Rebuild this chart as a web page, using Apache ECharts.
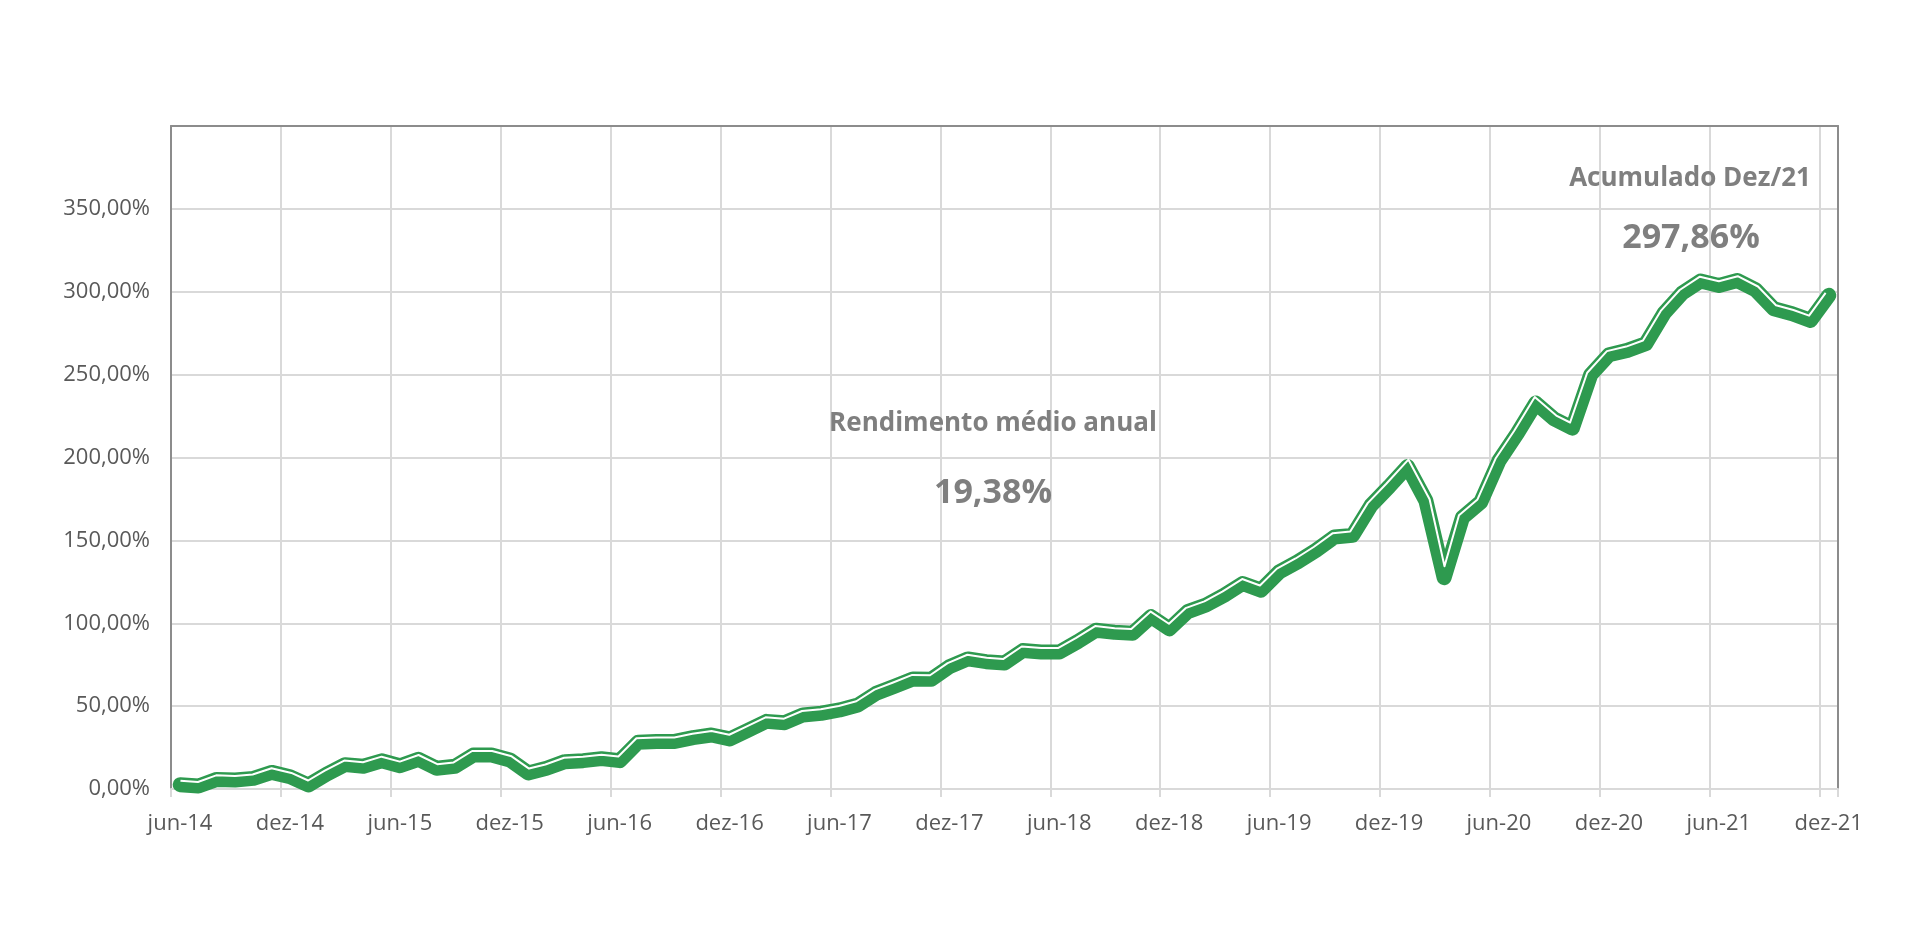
<!DOCTYPE html>
<html>
<head>
<meta charset="utf-8">
<script src="https://cdn.jsdelivr.net/npm/echarts@6/dist/echarts.min.js"></script>
<style>
html,body{margin:0;padding:0;background:#ffffff;}
#chart{width:1920px;height:938px;}
</style>
</head>
<body>
<div id="chart"></div>
<script>
// Months (one point per month, jun-14 .. dez-21)
const monthLabels = [
  'jun-14','jul-14','ago-14','set-14','out-14','nov-14','dez-14',
  'jan-15','fev-15','mar-15','abr-15','mai-15','jun-15','jul-15','ago-15','set-15','out-15','nov-15','dez-15',
  'jan-16','fev-16','mar-16','abr-16','mai-16','jun-16','jul-16','ago-16','set-16','out-16','nov-16','dez-16',
  'jan-17','fev-17','mar-17','abr-17','mai-17','jun-17','jul-17','ago-17','set-17','out-17','nov-17','dez-17',
  'jan-18','fev-18','mar-18','abr-18','mai-18','jun-18','jul-18','ago-18','set-18','out-18','nov-18','dez-18',
  'jan-19','fev-19','mar-19','abr-19','mai-19','jun-19','jul-19','ago-19','set-19','out-19','nov-19','dez-19',
  'jan-20','fev-20','mar-20','abr-20','mai-20','jun-20','jul-20','ago-20','set-20','out-20','nov-20','dez-20',
  'jan-21','fev-21','mar-21','abr-21','mai-21','jun-21','jul-21','ago-21','set-21','out-21','nov-21','dez-21'
];

// Cumulative return (%)
const cumulativeReturn = [
  2.6, 1.8, 5.8, 5.4, 6.4, 10.0, 7.4,
  2.4, 9.0, 14.7, 13.7, 17.0, 14.0, 17.9, 12.5, 13.7, 20.5, 20.5, 17.5,
  9.7, 12.5, 16.5, 17.1, 18.3, 17.1, 28.2, 28.6, 28.7, 31.0, 32.6, 30.2,
  35.4, 40.8, 40.0, 44.7, 45.7, 47.7, 50.7, 57.8, 62.0, 66.4, 66.2, 73.8,
  78.5, 76.8, 76.0, 83.5, 82.7, 82.7, 88.9, 95.8, 94.6, 94.0, 104.0, 96.6,
  107.0, 111.0, 117.0, 124.0, 120.0, 131.0, 137.0, 144.0, 152.0, 153.0, 171.0, 182.5,
  194.6, 174.0, 127.5, 163.8, 173.2, 198.2, 214.7, 232.8, 223.3, 217.7, 249.9, 262.0,
  264.6, 268.6, 287.0, 299.2, 306.5, 303.8, 306.8, 301.2, 289.7, 286.7, 282.7, 297.86
];

// X tick labels (every 6 months)
const xTickLabels = ['jun-14','dez-14','jun-15','dez-15','jun-16','dez-16','jun-17','dez-17',
                     'jun-18','dez-18','jun-19','dez-19','jun-20','dez-20','jun-21','dez-21'];

// Annotation texts
const avgTitle = 'Rendimento médio anual';
const avgValue = '19,38%';
const accTitle = 'Acumulado Dez/21';
const accValue = '297,86%';

// Each monthly point sits in the middle of its month
const seriesData = cumulativeReturn.map((v, i) => [i + 0.5, v]);

const GREEN = '#2e9a4f';
const FONT = "'Open Sans', 'Noto Sans', sans-serif";

function renderStripe(params, api) {
  if (params.dataIndex !== 0) return null;
  const pts = seriesData.map(d => api.coord(d));
  const n = pts.length;
  const d = 4;
  const normals = [];
  for (let i = 0; i < n - 1; i++) {
    const dx = pts[i + 1][0] - pts[i][0], dy = pts[i + 1][1] - pts[i][1];
    const L = Math.hypot(dx, dy) || 1;
    normals.push([dy / L, -dx / L]);
  }
  const out = [];
  for (let i = 0; i < n; i++) {
    let nx, ny, s = 1;
    if (i === 0) { nx = normals[0][0]; ny = normals[0][1]; }
    else if (i === n - 1) { nx = normals[n - 2][0]; ny = normals[n - 2][1]; }
    else {
      const a = normals[i - 1], b = normals[i];
      let mx = a[0] + b[0], my = a[1] + b[1];
      const ml = Math.hypot(mx, my);
      if (ml < 1e-6) { mx = a[0]; my = a[1]; } else { mx /= ml; my /= ml; }
      const c = mx * a[0] + my * a[1];
      s = 1 / Math.max(c, 0.35);
      nx = mx; ny = my;
    }
    out.push([pts[i][0] + nx * d * s, pts[i][1] + ny * d * s]);
  }
  return {
    type: 'polyline',
    shape: { points: out },
    style: { stroke: '#ffffff', lineWidth: 2, fill: null, lineJoin: 'round', lineCap: 'butt' },
    silent: true
  };
}

const chart = echarts.init(document.getElementById('chart'), null, { renderer: 'canvas' });

const option = {
  animation: false,
  backgroundColor: '#ffffff',
  grid: { left: 171, right: 82, top: 126, bottom: 149, containLabel: false },
  xAxis: [
    {
      type: 'value', min: 0, max: 91, interval: 6, position: 'bottom',
      axisLine: { show: true, onZero: false, lineStyle: { color: '#d9d9d9', width: 2 } },
      axisTick: { show: true, length: 8, lineStyle: { color: '#d9d9d9', width: 2 } },
      splitLine: { show: true, lineStyle: { color: '#d9d9d9', width: 2 } },
      axisLabel: {
        color: '#595959', fontSize: 22, fontFamily: FONT, margin: 24, padding: [0, 0, 0, 18],
        formatter: v => (v % 6 === 0 && xTickLabels[v / 6] !== undefined) ? xTickLabels[v / 6] : ''
      }
    },
    {
      type: 'value', min: 0, max: 91, position: 'top',
      axisLine: { show: true, onZero: false, lineStyle: { color: '#8c8c8c', width: 2 } },
      axisTick: { show: false }, axisLabel: { show: false }, splitLine: { show: false }
    }
  ],
  yAxis: [
    {
      type: 'value', min: 0, max: 400, interval: 50, position: 'left',
      axisLine: { show: true, onZero: false, lineStyle: { color: '#8c8c8c', width: 2 } },
      axisTick: { show: false },
      splitLine: { show: true, lineStyle: { color: '#d9d9d9', width: 2 } },
      axisLabel: {
        color: '#595959', fontSize: 22, fontFamily: FONT, margin: 21,
        formatter: v => v >= 400 ? '' : v.toFixed(2).replace('.', ',') + '%'
      }
    },
    {
      type: 'value', min: 0, max: 400, interval: 50, position: 'right',
      axisLine: { show: true, onZero: false, lineStyle: { color: '#8c8c8c', width: 2 } },
      axisTick: { show: false }, axisLabel: { show: false }, splitLine: { show: false }
    }
  ],
  series: [
    {
      type: 'line',
      data: seriesData,
      xAxisIndex: 0, yAxisIndex: 0,
      symbol: 'none',
      z: 3,
      lineStyle: { color: GREEN, width: 15, cap: 'round', join: 'round' }
    },
    {
      type: 'custom',
      data: seriesData,
      xAxisIndex: 0, yAxisIndex: 0,
      encode: { x: 0, y: 1 },
      z: 4,
      clip: false,
      renderItem: renderStripe
    }
  ],
  graphic: [
    { type: 'text', x: 993, y: 424, z: 10,
      style: { text: avgTitle, fill: '#7f7f7f', font: "bold 26px " + FONT, align: 'center', verticalAlign: 'middle' } },
    { type: 'text', x: 993, y: 493, z: 10,
      style: { text: avgValue, fill: '#7f7f7f', font: "bold 34px " + FONT, align: 'center', verticalAlign: 'middle' } },
    { type: 'text', x: 1690, y: 179, z: 10,
      style: { text: accTitle, fill: '#7f7f7f', font: "bold 26px " + FONT, align: 'center', verticalAlign: 'middle' } },
    { type: 'text', x: 1691, y: 238, z: 10,
      style: { text: accValue, fill: '#7f7f7f', font: "bold 34px " + FONT, align: 'center', verticalAlign: 'middle' } }
  ]
};

chart.setOption(option);
</script>
</body>
</html>
